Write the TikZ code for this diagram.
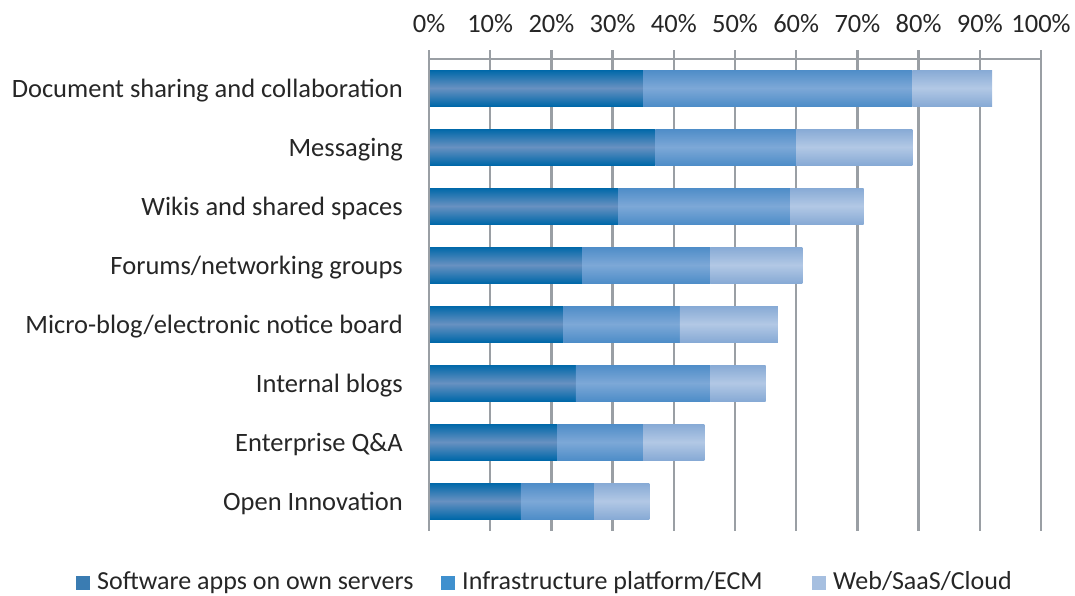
\documentclass[tikz,border=0pt]{standalone}
\usepackage{fontspec}
\setmainfont{Carlito}
\usetikzlibrary{positioning,calc}
\definecolor{txtgray}{HTML}{262626}
\definecolor{gridgray}{HTML}{9A9FA4}
\definecolor{darkedge}{HTML}{0068A9}
\definecolor{darkmid}{HTML}{6891C1}
\definecolor{midedge}{HTML}{4E8DC8}
\definecolor{midmid}{HTML}{7DA8D7}
\definecolor{lightedge}{HTML}{87AAD5}
\definecolor{lightmid}{HTML}{B2C8E5}
\definecolor{legdark}{HTML}{3A7CB2}
\definecolor{legmid}{HTML}{3F90CE}
\definecolor{leglight}{HTML}{A6BFE0}
\begin{document}
\begin{tikzpicture}[x=1pt,y=1pt,
    txt/.style={inner sep=0pt,text=txtgray,font=\fontsize{26.5}{30}\selectfont},
    legtxt/.style={txt,font=\fontsize{26}{30}\selectfont},
    grid/.style={draw=gridgray,line width=2.4pt},
    darkbar/.style={top color=darkedge,bottom color=darkedge,middle color=darkmid},
    midbar/.style={top color=midedge,bottom color=midedge,middle color=midmid},
    lightbar/.style={top color=lightedge,bottom color=lightedge,middle color=lightmid},
    swatch/.style={minimum size=14pt,inner sep=0pt}]
    \useasboundingbox (0,0) rectangle (1075,-595);
    % Grid and scale
    \foreach \v in {0,10,...,100} {
      \draw[grid] ({429+6.12*\v},-50) -- ({429+6.12*\v},-531);
      \node[txt,anchor=base] (tick\v) at ({429+6.12*\v},-32) {\v\%};
    }
    \draw[grid] (429,-59) -- (1041,-59);
    % Stacked bars
    \foreach \i/\lab/\a/\b/\c in {0/Document sharing and collaboration/35/79/92,
        1/Messaging/37/60/79,
        2/Wikis and shared spaces/31/59/71,
        3/Forums\slash networking groups/25/46/61,
        4/Micro-blog\slash electronic notice board/22/41/57,
        5/Internal blogs/24/46/55,
        6/Enterprise Q\&A/21/35/45,
        7/Open Innovation/15/27/36} {
      \pgfmathsetmacro\yc{-88-59*\i}
      \shade[darkbar] (430,\yc-18) rectangle ({429+6.12*\a},\yc+18);
      \shade[midbar] ({429+6.12*\a},\yc-18) rectangle ({429+6.12*\b},\yc+18);
      \shade[lightbar] ({429+6.12*\b},\yc-18) rectangle ({429+6.12*\c},\yc+18);
      \node[txt,anchor=base east] (row\i) at (403,\yc-9) {\lab};
    }
    % Legend
    \node[swatch,fill=legdark] (sw1) at (83,-583) {};
    \node[legtxt,anchor=base west] (leg1) at (97,-589) {Software apps on own servers};
    \node[swatch,fill=legmid] (sw2) at (448,-583) {};
    \node[legtxt,anchor=base west] (leg2) at (462,-589) {Infrastructure platform/ECM};
    \node[swatch,fill=leglight] (sw3) at (819,-583) {};
    \node[legtxt,anchor=base west] (leg3) at (833,-589) {Web/SaaS/Cloud};
\end{tikzpicture}
\end{document}
